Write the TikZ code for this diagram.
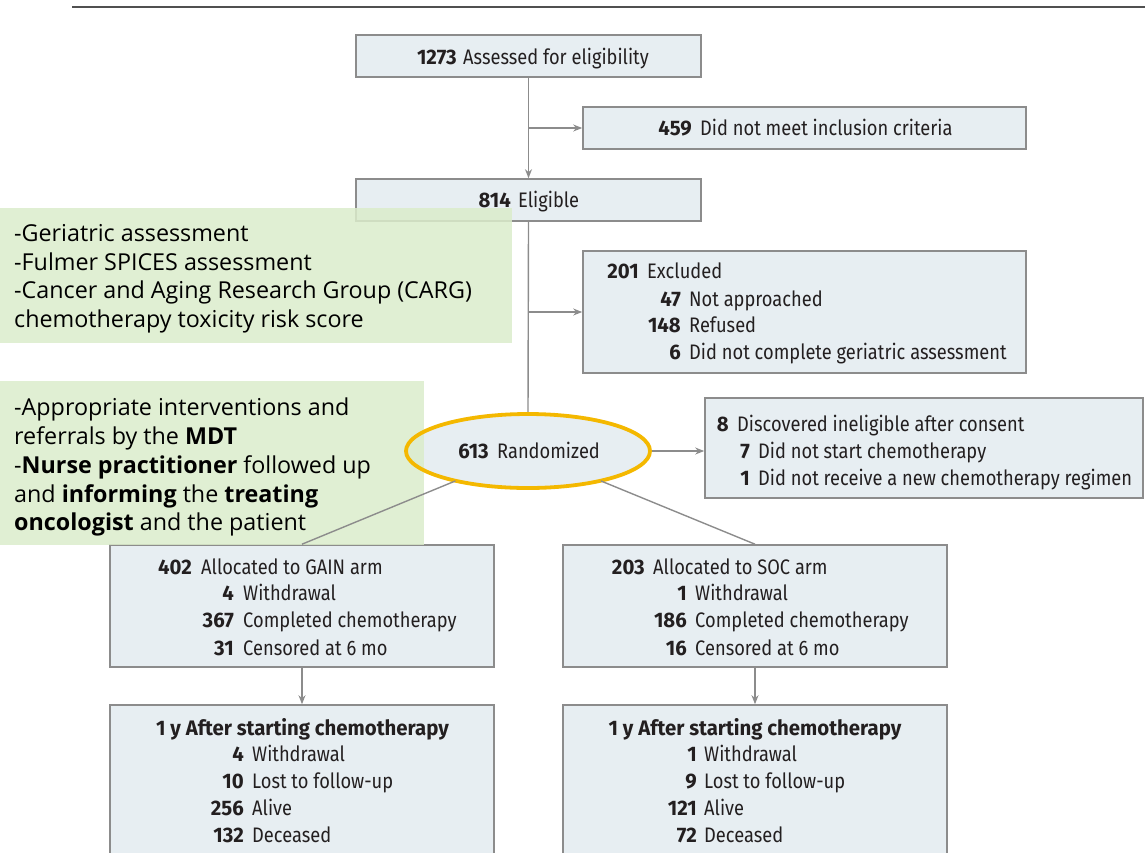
\documentclass[tikz,border=0pt]{standalone}
\usepackage{fontspec}
\usetikzlibrary{arrows.meta,shapes.geometric}
\newfontfamily\boxfont[FakeStretch=0.87]{Fira Sans}
\newfontfamily\numfont[FakeStretch=0.97]{Fira Sans}
\newfontfamily\greenfont{Open Sans}
\definecolor{boxfill}{RGB}{231,238,242}
\definecolor{boxline}{RGB}{140,140,140}
\definecolor{txt}{RGB}{35,31,32}
\definecolor{greenbg}{RGB}{219,236,203}
\definecolor{gold}{RGB}{244,184,0}
\definecolor{rule}{RGB}{80,80,80}
\tikzset{
  box/.style={draw=boxline, fill=boxfill, line width=1.6pt, inner sep=0pt},
  num/.style={anchor=base east, inner sep=0pt, text=txt, font=\numfont\fontsize{21}{24}\selectfont\bfseries},
  lbl/.style={anchor=base west, inner sep=0pt, text=txt, font=\boxfont\fontsize{21}{24}\selectfont},
  gbox/.style={fill=greenbg, fill opacity=0.85, draw=none, inner sep=0pt},
  gtxt/.style={anchor=base west, inner sep=0pt, text=black, font=\greenfont\fontsize{23.3}{27}\selectfont},
  conn/.style={draw=boxline, line width=1.4pt},
  arr/.style={conn, -{Stealth[length=9pt,width=7pt]}},
}
\begin{document}
\begin{tikzpicture}[x=1pt,y=-1pt]
\useasboundingbox (0,0) rectangle (1145,852);
\clip (0,0) rectangle (1145,852);
\draw[rule, line width=2.2pt] (72,7) -- (1145,7);

% boxes
\node[box, minimum width=345pt, minimum height=42pt] (A) at (528.5,56) {};
\node[box, minimum width=443pt, minimum height=42pt] (B) at (804.5,128) {};
\node[box, minimum width=345pt, minimum height=42pt] (C) at (528.5,200) {};
\node[box, minimum width=443pt, minimum height=122pt] (D) at (804.5,312) {};
\node[box, minimum width=438pt, minimum height=100pt] (E) at (924,448) {};
\node[box, minimum width=384pt, minimum height=122pt] (F) at (302,606) {};
\node[box, minimum width=384pt, minimum height=122pt] (G) at (755,606) {};
\node[box, minimum width=384pt, minimum height=165pt] (H) at (302,787.5) {};
\node[box, minimum width=384pt, minimum height=165pt] (I) at (755,787.5) {};
\node[ellipse, fill=boxfill, minimum width=244pt, minimum height=74pt, inner sep=0pt] (R) at (528,451) {};

% texts
\node[num] (a1) at (457,64) {1273}; \node[lbl] (a2) at (463,64) {Assessed for eligibility};
\node[num] (b1) at (692,135.5) {459}; \node[lbl] (b2) at (700,135.5) {Did not meet inclusion criteria};
\node[num] (c1) at (511,207.5) {814}; \node[lbl] (c2) at (518,207.5) {Eligible};
\node[num] (d1) at (639,278.5) {201}; \node[lbl] (d2) at (647,278.5) {Excluded};
\node[num] (d3) at (681,306.5) {47}; \node[lbl] (d4) at (689,306.5) {Not approached};
\node[num] (d5) at (681,332.5) {148}; \node[lbl] (d6) at (689,332.5) {Refused};
\node[num] (d7) at (681,359.5) {6}; \node[lbl] (d8) at (689,359.5) {Did not complete geriatric assessment};
\node[num] (e1) at (729,431.5) {8}; \node[lbl] (e2) at (737,431.5) {Discovered ineligible after consent};
\node[num] (e3) at (750,458.5) {7}; \node[lbl] (e4) at (758,458.5) {Did not start chemotherapy};
\node[num] (e5) at (750,485.5) {1}; \node[lbl] (e6) at (758,485.5) {Did not receive a new chemotherapy regimen};
\node[num] (r1) at (489,458.5) {613}; \node[lbl] (r2) at (497,458.5) {Randomized};
\node[num] (f1) at (192,574.5) {402}; \node[lbl] (f2) at (201,574.5) {Allocated to GAIN arm};
\node[num] (f3) at (234,600.5) {4}; \node[lbl] (f4) at (243,600.5) {Withdrawal};
\node[num] (f5) at (234,627.5) {367}; \node[lbl] (f6) at (243,627.5) {Completed chemotherapy};
\node[num] (f7) at (234,655.5) {31}; \node[lbl] (f8) at (243,655.5) {Censored at 6 mo};
\node[num] (g1) at (645,574.5) {203}; \node[lbl] (g2) at (653,574.5) {Allocated to SOC arm};
\node[num] (g3) at (687,600.5) {1}; \node[lbl] (g4) at (695,600.5) {Withdrawal};
\node[num] (g5) at (687,627.5) {186}; \node[lbl] (g6) at (695,627.5) {Completed chemotherapy};
\node[num] (g7) at (687,655.5) {16}; \node[lbl] (g8) at (695,655.5) {Censored at 6 mo};
\node[num, anchor=base] (h0) at (302.5,735.5) {1 y After starting chemotherapy};
\node[num] (h1) at (244,761.5) {4}; \node[lbl] (h2) at (252,761.5) {Withdrawal};
\node[num] (h3) at (244,788.5) {10}; \node[lbl] (h4) at (252,788.5) {Lost to follow-up};
\node[num] (h5) at (244,815.5) {256}; \node[lbl] (h6) at (252,815.5) {Alive};
\node[num] (h7) at (244,842.5) {132}; \node[lbl] (h8) at (252,842.5) {Deceased};
\node[num, anchor=base] (i0) at (755,735.5) {1 y After starting chemotherapy};
\node[num] (i1) at (697,761.5) {1}; \node[lbl] (i2) at (704,761.5) {Withdrawal};
\node[num] (i3) at (697,788.5) {9}; \node[lbl] (i4) at (704,788.5) {Lost to follow-up};
\node[num] (i5) at (697,815.5) {121}; \node[lbl] (i6) at (704,815.5) {Alive};
\node[num] (i7) at (697,842.5) {72}; \node[lbl] (i8) at (704,842.5) {Deceased};

% connectors
\coordinate (j1) at (A.south |- B.west);
\coordinate (j2) at (C.south |- D.west);
\draw[arr] (A) -- (C);
\draw[arr] (j1) -- (B.west);
\draw[conn] (C.south) -- (R.north);
\draw[arr] (j2) -- (D.west);
\draw[arr] (R.east) -- (R.east -| E.west);
\draw[arr] (F.south) -- (H.north);
\draw[arr] (G.south) -- (I.north);

% green notes
\node[gbox, minimum width=512pt, minimum height=135pt] (N1) at (256,275.5) {};
\node[gbox, minimum width=424pt, minimum height=164pt] (N2) at (212,463) {};
\node[gtxt] (n1a) at (14,241) {-Geriatric assessment};
\node[gtxt] (n1b) at (14,270) {-Fulmer SPICES assessment};
\node[gtxt] (n1c) at (14,298) {-Cancer and Aging Research Group (CARG)};
\node[gtxt] (n1d) at (14,327) {chemotherapy toxicity risk score};
\node[gtxt] (n2a) at (14,415) {-Appropriate interventions and};
\node[gtxt] (n2b) at (14,444) {referrals by the \textbf{MDT}};
\node[gtxt] (n2c) at (14,473) {-\textbf{Nurse practitioner} followed up};
\node[gtxt] (n2d) at (14,502) {and \textbf{informing} the \textbf{treating}};
\node[gtxt] (n2e) at (14,530) {\textbf{oncologist} and the patient};

% ellipse outline and arm connectors on top
\draw[gold, line width=3.8pt] (R.center) ellipse [x radius=122pt, y radius=37pt];
\draw[conn] (R) -- (F.north);
\draw[conn] (R) -- (G.north);
\end{tikzpicture}
\end{document}
